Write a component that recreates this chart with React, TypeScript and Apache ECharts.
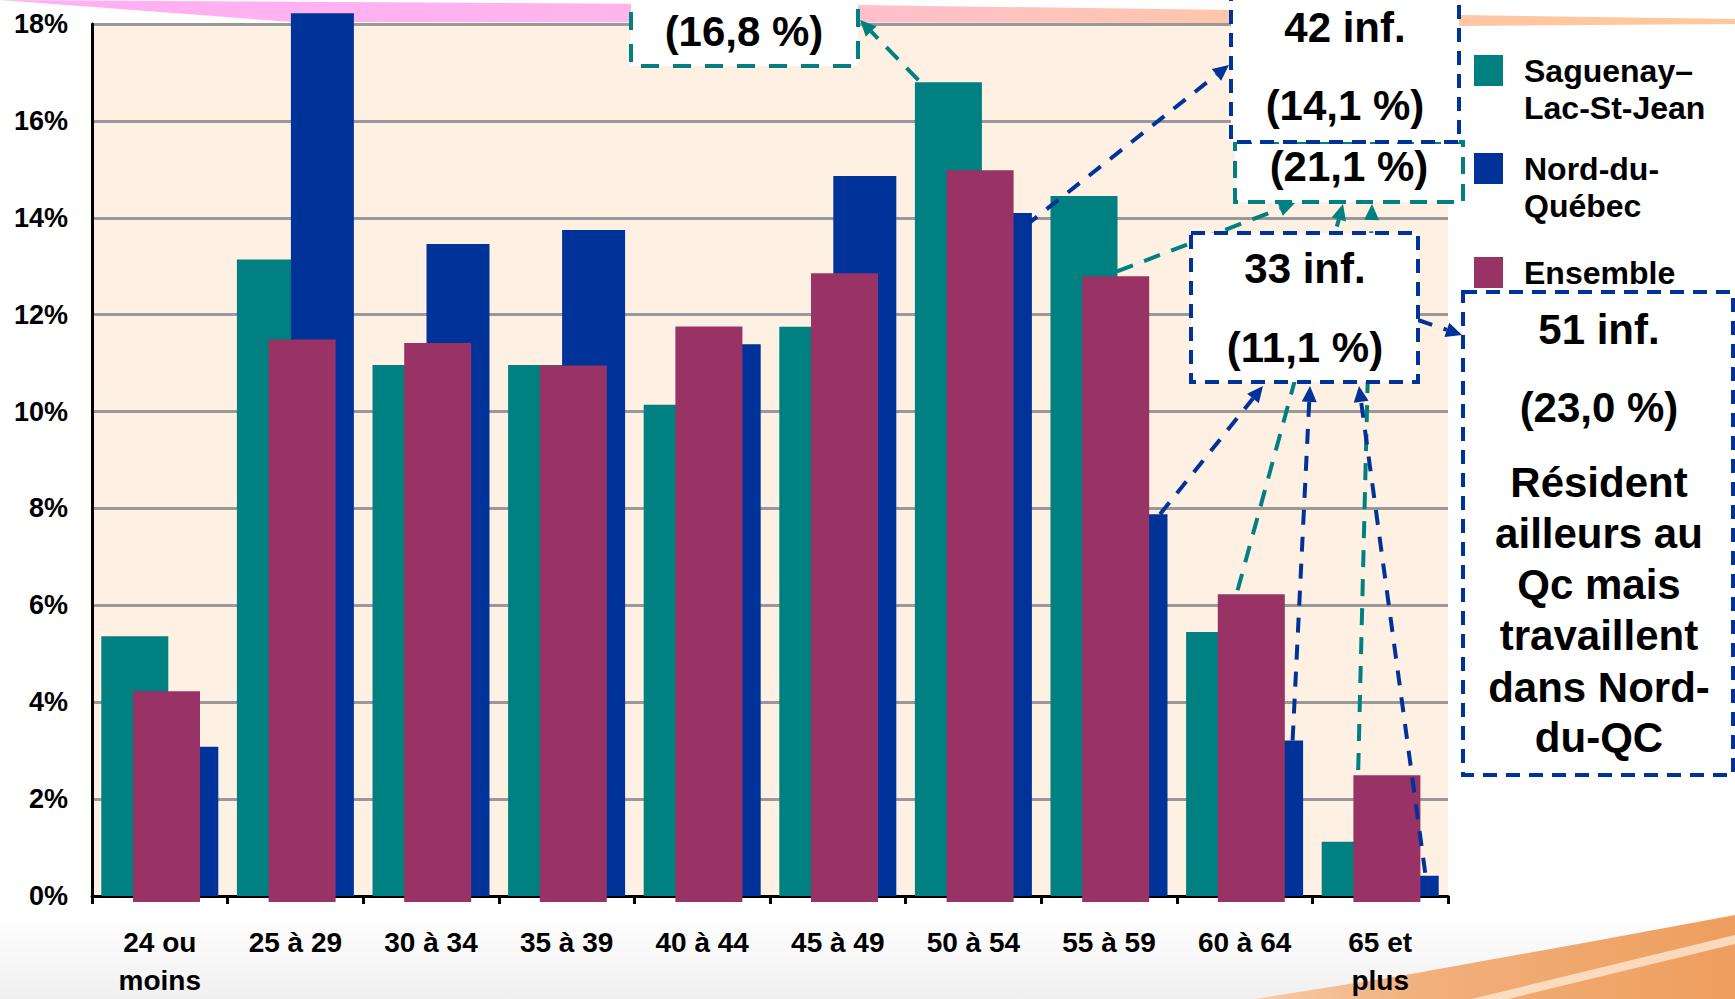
import React, { useEffect, useRef } from 'react';
import * as echarts from 'echarts';

// ---------- data ----------
const categories = ['24 ou\nmoins', '25 à 29', '30 à 34', '35 à 39', '40 à 44', '45 à 49', '50 à 54', '55 à 59', '60 à 64', '65 et\nplus'];
const sagValues = [5.36, 13.14, 10.96, 10.96, 10.14, 11.75, 16.8, 14.45, 5.45, 1.12];
const nordValues = [3.08, 18.22, 13.46, 13.75, 11.39, 14.86, 14.1, 7.88, 3.21, 0.42];
const ensValues = [4.32, 11.53, 11.46, 11.0, 11.8, 12.89, 15.0, 12.83, 6.31, 2.6];
const yMin = 0;
const yMax = 18;
const yInterval = 2;

const seriesNames = ['Saguenay–Lac-St-Jean', 'Nord-du-Québec', 'Ensemble'];
// leading empty line keeps the first text line level with the legend square
const legendLabels = ['\nSaguenay–\nLac-St-Jean', '\nNord-du-\nQuébec', 'Ensemble'];

const boxAText = ['(16,8 %)'];
const boxBText = ['42 inf.', '(14,1 %)'];
const boxCText = ['(21,1 %)'];
const boxDText = ['33 inf.', '(11,1 %)'];
const boxEText = ['51 inf.', '(23,0 %)', 'Résident', 'ailleurs au', 'Qc mais', 'travaillent', 'dans Nord-', 'du-QC'];

const TEAL = '#008080';
const BLUE = '#003399';
const MAGENTA = '#993366';
const FONT = '"Liberation Sans", Arial, Helvetica, sans-serif';

export default function App() {
  const ref = useRef<HTMLDivElement>(null);

  useEffect(() => {
    if (!ref.current) return;
    const chart = echarts.init(ref.current, undefined, { renderer: 'svg' });

    const legendBase = {
      orient: 'vertical',
      left: 1474,
      padding: 0,
      itemWidth: 29,
      itemHeight: 31,
      icon: 'rect',
      selectedMode: false,
      textStyle: { fontSize: 32, fontWeight: 'bold', lineHeight: 37, color: '#000', fontFamily: FONT },
      formatter: (name: string) => legendLabels[seriesNames.indexOf(name)] ?? name,
    };

    const option: any = {
      animation: false,
      backgroundColor: '#ffffff',
      grid: [
        { left: 92, top: 24, width: 1356, height: 878, show: true, backgroundColor: '#FEF0E2', borderWidth: 0 },
        { left: 98.7, top: 24, width: 1356, height: 878, show: false },
      ],
      xAxis: [
        {
          type: 'category',
          gridIndex: 0,
          data: categories,
          axisLine: { show: true, lineStyle: { color: '#000', width: 3 } },
          axisTick: { show: true, length: 8, lineStyle: { color: '#000', width: 3 } },
          axisLabel: {
            interval: 0,
            color: '#000',
            fontSize: 28,
            fontWeight: 'bold',
            fontFamily: FONT,
            lineHeight: 38,
            margin: 27,
          },
          splitLine: { show: false },
        },
        { type: 'category', gridIndex: 1, data: categories, show: false },
      ],
      yAxis: [
        {
          type: 'value',
          gridIndex: 0,
          min: yMin,
          max: yMax,
          interval: yInterval,
          axisLine: { show: true, lineStyle: { color: '#000', width: 3 } },
          axisTick: { show: false },
          axisLabel: {
            formatter: '{value}%',
            color: '#000',
            fontSize: 27,
            fontWeight: 'bold',
            fontFamily: FONT,
            margin: 24,
          },
          splitLine: { show: true, lineStyle: { color: '#999999', width: 3 } },
        },
        { type: 'value', gridIndex: 1, min: yMin, max: yMax, interval: yInterval, show: false, splitLine: { show: false } },
      ],
      legend: [
        {
          ...legendBase,
          top: 15,
          data: [{ name: seriesNames[0], textStyle: { padding: [0, 0, 0, 16], backgroundColor: 'rgba(0,0,0,0)' } }],
        },
        {
          ...legendBase,
          top: 113,
          data: [{ name: seriesNames[1], textStyle: { padding: [0, 0, 0, 16], backgroundColor: 'rgba(0,0,0,0)' } }],
        },
        {
          ...legendBase,
          top: 254,
          data: [{ name: seriesNames[2], textStyle: { padding: [0, 0, 0, 16], backgroundColor: 'rgba(0,0,0,0)' } }],
        },
      ],
      series: [
        {
          name: seriesNames[0],
          type: 'bar',
          xAxisIndex: 0,
          yAxisIndex: 0,
          data: sagValues,
          barWidth: 67,
          barGap: '-19.4%',
          z: 2,
          clip: false,
          itemStyle: { color: TEAL },
        },
        {
          name: seriesNames[1],
          type: 'bar',
          xAxisIndex: 0,
          yAxisIndex: 0,
          data: nordValues,
          barWidth: 63,
          barGap: '-19.4%',
          z: 3,
          clip: false,
          itemStyle: { color: BLUE },
        },
        {
          name: seriesNames[2],
          type: 'bar',
          xAxisIndex: 1,
          yAxisIndex: 1,
          data: ensValues,
          barWidth: 67,
          z: 4,
          clip: false,
          itemStyle: { color: MAGENTA },
        },
      ],
    };

    chart.setOption(option);

    const pt = (cat: number, val: number, dx: number, dy: number): number[] => {
      const p = chart.convertToPixel({ gridIndex: 0 } as any, [cat, val]) as number[];
      return [p[0] + dx, p[1] + dy];
    };

    const arrow = (from: number[], to: number[], color: string, dash: number[]) => {
      const dx = to[0] - from[0];
      const dy = to[1] - from[1];
      const len = Math.hypot(dx, dy);
      const ux = dx / len;
      const uy = dy / len;
      const L = 16;
      const W = 7.5;
      const bx = to[0] - ux * L;
      const by = to[1] - uy * L;
      return [
        {
          type: 'line',
          z: 50,
          shape: { x1: from[0], y1: from[1], x2: bx, y2: by },
          style: { stroke: color, lineWidth: 4, lineDash: dash },
        },
        {
          type: 'polygon',
          z: 50,
          shape: { points: [[to[0], to[1]], [bx - uy * W, by + ux * W], [bx + uy * W, by - ux * W]] },
          style: { fill: color },
        },
      ];
    };

    const tealDash = [17, 12];
    const blueDash = [15, 12];

    const arrows: any[] = [
      ...arrow(pt(6, sagValues[6], -55, -2), [860, 20], TEAL, tealDash),
      ...arrow(pt(6, nordValues[6], 52, 13), [1229, 65], BLUE, blueDash),
      ...arrow(pt(7, ensValues[7], 8, -3), [1295, 203], TEAL, tealDash),
      ...arrow(pt(8, ensValues[8], -7, 0), [1343, 204], TEAL, tealDash),
      ...arrow(pt(9, ensValues[9], -22, 0), [1372, 204], TEAL, tealDash),
      ...arrow(pt(7, nordValues[7], 51, 0), [1263, 386], BLUE, blueDash),
      ...arrow(pt(8, nordValues[8], 48, 0), [1310, 386], BLUE, blueDash),
      ...arrow(pt(9, nordValues[9], 45, -3), [1359, 386], BLUE, blueDash),
      ...arrow([1418, 320], [1462, 335], BLUE, blueDash),
    ];

    const box = (x: number, y: number, w: number, h: number, color: string, dash: number[], z: number) => ({
      type: 'rect',
      z,
      shape: { x, y, width: w, height: h },
      style: { fill: '#ffffff', stroke: color, lineWidth: 4, lineDash: dash },
    });

    const txt = (text: string, x: number, y: number, size = 42) => ({
      type: 'text',
      z: 80,
      style: {
        text,
        x,
        y,
        fill: '#000',
        font: `bold ${size}px ${FONT}`,
        textAlign: 'center',
        textVerticalAlign: 'middle',
        align: 'center',
        verticalAlign: 'middle',
      },
    });

    const boxes: any[] = [
      box(631, -20, 227, 86, TEAL, [18, 14], 60),
      box(1235, 142, 228, 60, TEAL, [17, 10], 60),
      box(1231, -20, 228, 162, BLUE, [14, 9], 61),
      box(1191, 233, 227, 149, BLUE, [14, 9], 62),
      box(1463, 292, 270, 483, BLUE, [14, 9], 60),
    ];

    const eY = [329, 407, 482, 533, 584, 635, 687, 737];
    const texts: any[] = [
      txt(boxAText[0], 744, 31),
      txt(boxBText[0], 1345, 27),
      txt(boxBText[1], 1345, 105),
      txt(boxCText[0], 1349, 166),
      txt(boxDText[0], 1305, 268),
      txt(boxDText[1], 1305, 347),
      ...boxEText.map((t, i) => txt(t, 1599, eY[i])),
    ];

    const decorations: any[] = [
      {
        type: 'polygon',
        z: -10,
        silent: true,
        shape: {
          points: [[0, 0], [858, 5], [1231, 10], [1460, 15], [1735, 19], [1735, 24], [1460, 26], [1231, 23], [292, 22]],
        },
        style: {
          fill: new echarts.graphic.LinearGradient(0, 0, 1, 0, [
            { offset: 0, color: '#FFAEF6' },
            { offset: 0.35, color: '#FFB4EC' },
            { offset: 0.5, color: '#FFC0CC' },
            { offset: 0.7, color: '#FFC6AC' },
            { offset: 1, color: '#FFC898' },
          ]),
        },
      },
      {
        type: 'rect',
        z: -11,
        silent: true,
        shape: { x: 0, y: 915, width: 1735, height: 84 },
        style: {
          fill: new echarts.graphic.LinearGradient(0, 0, 0, 1, [
            { offset: 0, color: 'rgba(238,238,238,0)' },
            { offset: 1, color: 'rgba(238,238,238,0.9)' },
          ]),
        },
      },
      {
        type: 'polygon',
        z: -10,
        silent: true,
        shape: { points: [[1255, 999], [1400, 976], [1600, 940], [1735, 915], [1735, 999]] },
        style: {
          fill: new echarts.graphic.LinearGradient(0, 0, 1, 0, [
            { offset: 0, color: '#F6CBA8' },
            { offset: 0.35, color: '#F2B07C' },
            { offset: 1, color: '#EE9E5E' },
          ]),
        },
      },
      {
        type: 'polygon',
        z: -9,
        silent: true,
        shape: { points: [[1472, 999], [1735, 935], [1735, 944], [1508, 999]] },
        style: { fill: 'rgba(255,236,218,0.75)' },
      },
    ];

    chart.setOption({ graphic: { elements: [...decorations, ...arrows, ...boxes, ...texts] } });

    return () => {
      chart.dispose();
    };
  }, []);

  return <div ref={ref} style={{ position: 'fixed', left: 0, top: 0, width: 1735, height: 999 }} />;
}
